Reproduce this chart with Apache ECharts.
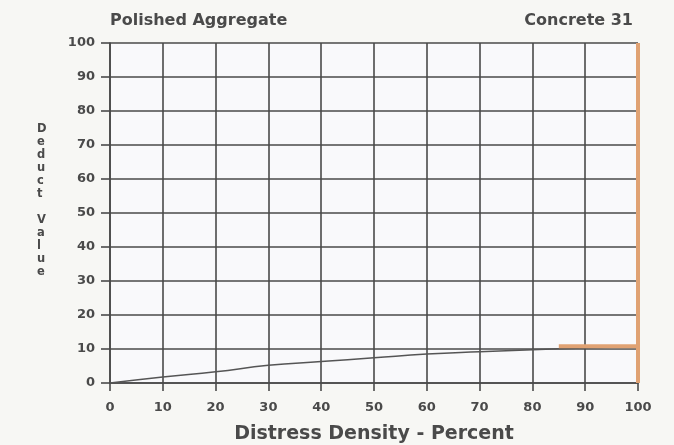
<!DOCTYPE html>
<html><head><meta charset="utf-8">
<script src="https://cdn.jsdelivr.net/npm/echarts@6/dist/echarts.min.js"></script>
<style>html,body{margin:0;padding:0;background:#f7f7f4}#c{width:674px;height:445px}</style>
</head><body><div id="c"></div>
<script>
const densityPct = [0, 10, 20, 30, 40, 50, 60, 70, 80, 90, 100];
const deductValue = [0, 1.8, 3.3, 5.2, 6.3, 7.4, 8.5, 9.2, 9.8, 10.3, 10.7];
const highlightX = [85, 100];
const highlightY = [10.8, 10.8];
const boundaryX = [100, 100];
const boundaryY = [0, 100];
const xTicks = [0, 10, 20, 30, 40, 50, 60, 70, 80, 90, 100];
const yTicks = [0, 10, 20, 30, 40, 50, 60, 70, 80, 90, 100];

const font = 'DejaVu Sans, sans-serif';
const chart = echarts.init(document.getElementById('c'));
chart.setOption({
  backgroundColor: '#f7f7f4',
  animation: false,
  title: [
    {text: 'Polished Aggregate', left: 105, top: 8, textStyle: {fontFamily: font, fontSize: 16, fontWeight: 'bold', color: '#4a4a4a'}},
    {text: 'Concrete 31', right: 36, top: 8, textStyle: {fontFamily: font, fontSize: 16, fontWeight: 'bold', color: '#4a4a4a'}}
  ],
  grid: {left: 110, right: 36, top: 43, bottom: 62, show: true, backgroundColor: '#f9f9fb', borderWidth: 0,
    outerBoundsMode: 'none'},
  xAxis: {
    type: 'value', min: 0, max: 100, interval: 10,
    name: 'Distress Density - Percent', nameLocation: 'middle', nameGap: 42,
    nameTextStyle: {fontFamily: font, fontSize: 19, fontWeight: 'bold', color: '#4a4a4a'},
    axisLine: {show: true, lineStyle: {color: '#4a4a4a', width: 1.6}},
    axisTick: {show: true, length: 8, lineStyle: {color: '#4a4a4a', width: 1.6}},
    axisLabel: {fontFamily: font, fontSize: 13, fontWeight: 'bold', color: '#4a4a4a', margin: 18,
      formatter: v => xTicks.includes(v) ? String(v) : ''},
    splitLine: {show: true, lineStyle: {color: '#4a4a4a', width: 1.6}}
  },
  yAxis: {
    type: 'value', min: 0, max: 100, interval: 10,
    axisLine: {show: true, lineStyle: {color: '#4a4a4a', width: 1.6}},
    axisTick: {show: true, length: 9, lineStyle: {color: '#4a4a4a', width: 1.6}},
    axisLabel: {fontFamily: font, fontSize: 13, fontWeight: 'bold', color: '#4a4a4a', margin: 15,
      formatter: v => yTicks.includes(v) ? String(v) : ''},
    splitLine: {show: true, lineStyle: {color: '#4a4a4a', width: 1.6}}
  },
  graphic: [{
    type: 'text', left: 37, top: 123,
    style: {text: 'D\ne\nd\nu\nc\nt\n\nV\na\nl\nu\ne', fontFamily: font, fontSize: 11.5, fontWeight: 'bold',
      fill: '#4a4a4a', lineHeight: 13, align: 'center'}
  }],
  series: [
    {type: 'line', data: densityPct.map((x, i) => [x, deductValue[i]]), smooth: true, symbol: 'none',
      lineStyle: {color: '#555', width: 1.5}, z: 3},
    {type: 'line', data: highlightX.map((x, i) => [x, highlightY[i]]), symbol: 'none',
      lineStyle: {color: '#e0a273', width: 4}, z: 4},
    {type: 'line', data: boundaryX.map((x, i) => [x, boundaryY[i]]), symbol: 'none',
      lineStyle: {color: '#e0a273', width: 4}, z: 4}
  ]
});
</script></body></html>
